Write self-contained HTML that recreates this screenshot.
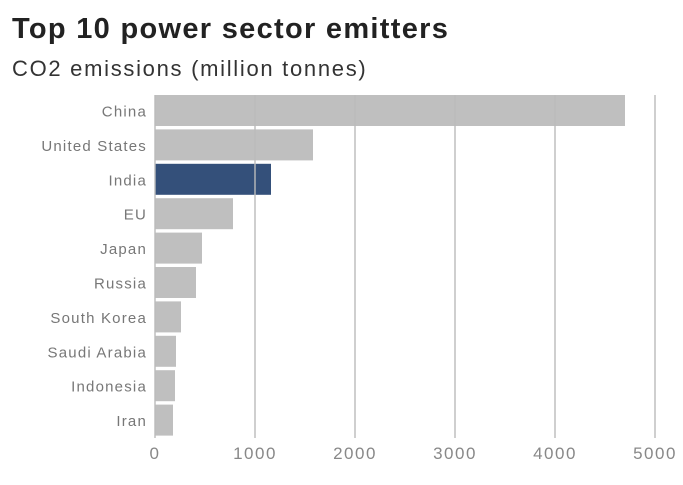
<!DOCTYPE html>
<html><head><meta charset="utf-8"><style>
body{margin:0;background:#fff;font-family:"Liberation Sans",sans-serif;}
svg{display:block}
</style></head><body>
<svg width="683" height="485">
<text x="12" y="38" font-size="29" font-weight="bold" fill="#222" letter-spacing="1.3">Top 10 power sector emitters</text>
<text x="12" y="76" font-size="22" fill="#333" letter-spacing="1.7">CO2 emissions (million tonnes)</text>
<g id="bars"></g><g id="grid"></g><g id="labels"></g><g id="ticks"></g>
</svg>
<script>
const categories=["China","United States","India","EU","Japan","Russia","South Korea","Saudi Arabia","Indonesia","Iran"];
const values=[4700,1580,1160,780,470,410,260,210,200,180];
const highlight=["India"];
const tickValues=[0,1000,2000,3000,4000,5000];
const ns="http://www.w3.org/2000/svg";
const x0=155,pxPer=0.1,top0=95,pitch=34.4,barH=31,gridBottom=438;
const xs=v=>x0+v*pxPer;
const ys=i=>top0+i*pitch;
function mk(t,a,p){const e=document.createElementNS(ns,t);for(const k in a)e.setAttribute(k,a[k]);document.getElementById(p).appendChild(e);return e;}
categories.forEach((c,i)=>{
 const r=mk("rect",{x:xs(0),y:ys(i),width:xs(values[i])-xs(0),height:barH,fill:highlight.includes(c)?"#34507a":"#bfbfbf"},"bars");
 
 
 const t=mk("text",{x:147,y:ys(i)+barH/2+6,"text-anchor":"end","font-size":"15","letter-spacing":"1.2",fill:"#777"},"labels");
 t.textContent=c;
 
 
});
tickValues.forEach(v=>{
 const l=mk("line",{x1:xs(v),x2:xs(v),y1:top0,y2:gridBottom,stroke:"#bbb","stroke-opacity":"0.7","stroke-width":"2"},"grid");
 
 
 const t=mk("text",{x:xs(v),y:459,"text-anchor":"middle","font-size":"17","letter-spacing":"1.5",fill:"#888"},"ticks");
 t.textContent=v;
 
 
});
</script>
</body></html>
